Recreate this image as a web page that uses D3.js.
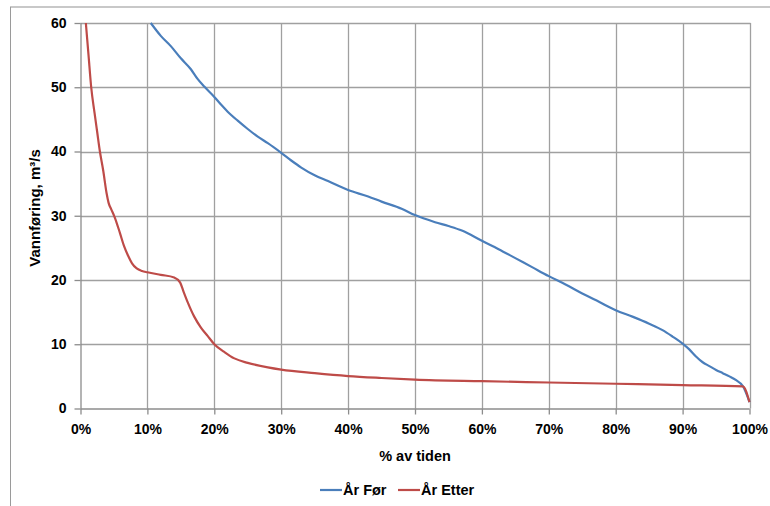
<!DOCTYPE html>
<html><head><meta charset="utf-8">
<script src="https://cdn.jsdelivr.net/npm/d3@7"></script>
<style>
html,body{margin:0;padding:0;background:#fff;}
text{font-family:"Liberation Sans",Arial,sans-serif;font-weight:bold;fill:#000;}
</style></head>
<body>
<svg id="c" width="770" height="506"></svg>
<script>
// Data (percent of time, flow m3/s)
const forPct = [10.5,12,13.5,15,16.5,17.5,18.5,20,21,22,23.5,25,26.5,28,30,31.5,33,35,37,40,43,45,48,50,53,55,57,60,62.5,65,67.5,70,72.5,75,77.5,80,82.5,85,87,88.5,90,91,92,93,94,95,96,97,98,99,100];
const forVal = [60,58,56.4,54.5,52.8,51.3,50.1,48.5,47.3,46.2,44.8,43.5,42.3,41.3,39.8,38.6,37.5,36.3,35.4,34,33,32.2,31.1,30.1,29,28.4,27.7,26.1,24.8,23.4,22,20.6,19.3,17.9,16.6,15.3,14.3,13.2,12.2,11.2,10.1,9.2,8.1,7.2,6.6,6,5.5,5,4.4,3.5,1];
const etterPct = [0.8,1.2,1.6,2.1,2.5,2.9,3.4,3.9,4.2,4.6,5.1,5.9,6.5,7.1,7.7,8.4,9.2,10,12,14,14.9,15.4,16,17,18,19,20,21.5,23,25,28,30,35,40,45,50,60,70,80,90,99,100];
const etterVal = [60,55,50,46,43,40,37,33.5,32,31,29.8,27.3,25.3,23.8,22.6,21.8,21.4,21.2,20.8,20.4,19.6,18.2,16.6,14.3,12.6,11.3,10,8.8,7.8,7.1,6.4,6.05,5.5,5.05,4.75,4.5,4.25,4.05,3.85,3.65,3.45,1];
const xTicks = [0,10,20,30,40,50,60,70,80,90,100];
const yTicks = [0,10,20,30,40,50,60];
const seriesNames = ["År Før","År Etter"];
const seriesColors = ["#4a7ebb","#be4b48"];

const svg = d3.select("#c");
const L = 80.5, R = 749.5, T = 23, B = 408.5;
const x = d3.scaleLinear().domain([0,100]).range([L,R]);
const y = d3.scaleLinear().domain([0,60]).range([B,T]);

// outer frame
svg.append("line").attr("x1",10).attr("x2",770).attr("y1",7).attr("y2",7).attr("stroke","#c8c8c8").attr("stroke-width",2);
svg.append("line").attr("x1",10.5).attr("x2",10.5).attr("y1",7).attr("y2",506).attr("stroke","#9a9a9a").attr("stroke-width",1);

// gridlines
const g = svg.append("g");
g.selectAll(".vg").data(xTicks.slice(1)).enter().append("line")
  .attr("x1",d=>Math.round(x(d))+0.5).attr("x2",d=>Math.round(x(d))+0.5)
  .attr("y1",T).attr("y2",B).attr("stroke","#a0a0a0").attr("stroke-width",1.3);
g.selectAll(".hg").data(yTicks.slice(1)).enter().append("line")
  .attr("x1",L).attr("x2",R+1).attr("y1",d=>Math.round(y(d))+0.5).attr("y2",d=>Math.round(y(d))+0.5)
  .attr("stroke","#a0a0a0").attr("stroke-width",1.3);

// axes
const xAxis = d3.axisBottom(x).tickValues(xTicks).tickSize(6).tickFormat(d=>d+"%");
const yAxis = d3.axisLeft(y).tickValues(yTicks).tickSize(6).tickFormat(d=>d);
const gx = svg.append("g").attr("transform",`translate(0,${B})`).call(xAxis);
const gy = svg.append("g").attr("transform",`translate(${L},0)`).call(yAxis);
[gx,gy].forEach(a=>{
  a.select(".domain").attr("stroke","#8c8c8c").attr("stroke-width",1.3);
  a.selectAll(".tick line").attr("stroke","#8c8c8c").attr("stroke-width",1.3);
  a.selectAll("text").style("font-family","'Liberation Sans',Arial,sans-serif").style("font-weight","bold").style("font-size","14px").attr("fill","#000");
});
gx.selectAll(".tick text").attr("dy","1.2em");
gy.selectAll(".tick text").attr("x",-14);
gx.select(".domain").attr("d",`M${L},0.5H${R}`);
gy.select(".domain").attr("d",`M0.5,${T}V${B}`);

// titles
svg.append("text").attr("x",415).attr("y",461).attr("text-anchor","middle").style("font-size","14.5px").text("% av tiden");
svg.append("text").attr("transform","translate(40,208) rotate(-90)").attr("text-anchor","middle").style("font-size","15px")
  .text("Vannføring, m³/s");

// lines
svg.append("clipPath").attr("id","clip").append("rect").attr("x",L).attr("y",T-1).attr("width",R-L+2).attr("height",B-T+2);
const line = d3.line().x(d=>x(d[0])).y(d=>y(d[1])).curve(d3.curveMonotoneX);
const series = [d3.zip(forPct,forVal), d3.zip(etterPct,etterVal)];
series.forEach((s,i)=>{
  svg.append("path").datum(s).attr("d",line).attr("fill","none").attr("stroke",seriesColors[i])
    .attr("stroke-width",2.2).attr("stroke-linejoin","round").attr("clip-path","url(#clip)");
});

// legend
const leg = [{x:320,tx:343},{x:398,tx:421}];
seriesNames.forEach((n,i)=>{
  svg.append("line").attr("x1",leg[i].x).attr("x2",leg[i].x+22).attr("y1",490).attr("y2",490)
    .attr("stroke",seriesColors[i]).attr("stroke-width",2.2);
  svg.append("text").attr("x",leg[i].tx).attr("y",495).style("font-size","14.5px").text(n);
});
</script>
</body></html>
